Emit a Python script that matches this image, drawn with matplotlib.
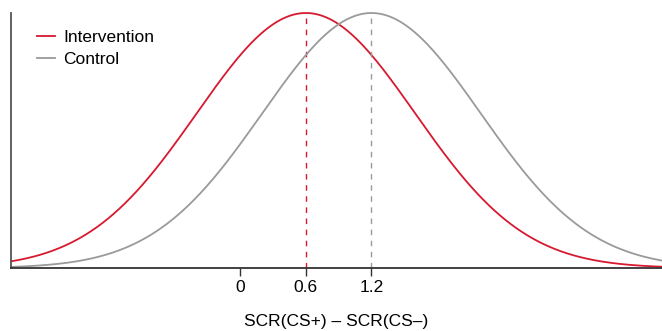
import numpy as np
import matplotlib
matplotlib.use("Agg")
import matplotlib.pyplot as plt

# ── Data ──────────────────────────────────────────────────────────────────────
groups = ["Intervention", "Control"]
means = [0.6, 1.2]
sds = [1.0, 1.0]
colours = ["#d7192f", "#9a9a9a"]
tick_vals = [0, 0.6, 1.2]
tick_labels = ["0", "0.6", "1.2"]

plt.rcParams["font.family"] = ["Liberation Sans", "DejaVu Sans"]
FS = 12.5

fig = plt.figure(figsize=(6.62, 3.31), dpi=100)
ax = fig.add_axes([11 / 662, 63 / 331, 1 - 11 / 662, 255 / 331])

x = np.linspace(-2.1, 3.9, 600)
peak = 0
for name, mu, sd, col in zip(groups, means, sds, colours):
    y = np.exp(-0.5 * ((x - mu) / sd) ** 2) / (sd * np.sqrt(2 * np.pi))
    peak = max(peak, y.max())
    ax.plot(x, y, color=col, lw=1.3, label=name, clip_on=False)
    top = 1 / (sd * np.sqrt(2 * np.pi))
    ax.plot([mu, mu], [0, top], color=col, lw=1.0, ls=(0, (4, 4)))

ax.set_xlim(-2.1, 3.86)
ax.set_ylim(0, peak)
ax.set_xticks(tick_vals)
ax.set_xticklabels(tick_labels, fontsize=FS)
ax.set_yticks([])
ax.tick_params(axis="x", length=6, width=1.0, color="#333333", pad=3)
for side in ["top", "right"]:
    ax.spines[side].set_visible(False)
ax.spines["left"].set_color("#555555")
ax.spines["left"].set_linewidth(1.3)
ax.spines["bottom"].set_color("#333333")
ax.spines["bottom"].set_linewidth(1.3)
ax.set_xlabel("SCR(CS+) – SCR(CS–)", fontsize=FS, labelpad=13)

ax.legend(loc="upper left", bbox_to_anchor=(30 / 662, 1 - 23 / 331),
          bbox_transform=fig.transFigure, frameon=False,
          fontsize=FS, handlelength=1.05, handletextpad=0.45,
          labelspacing=0.4, borderaxespad=0)

fig.savefig("out.png", dpi=100)
